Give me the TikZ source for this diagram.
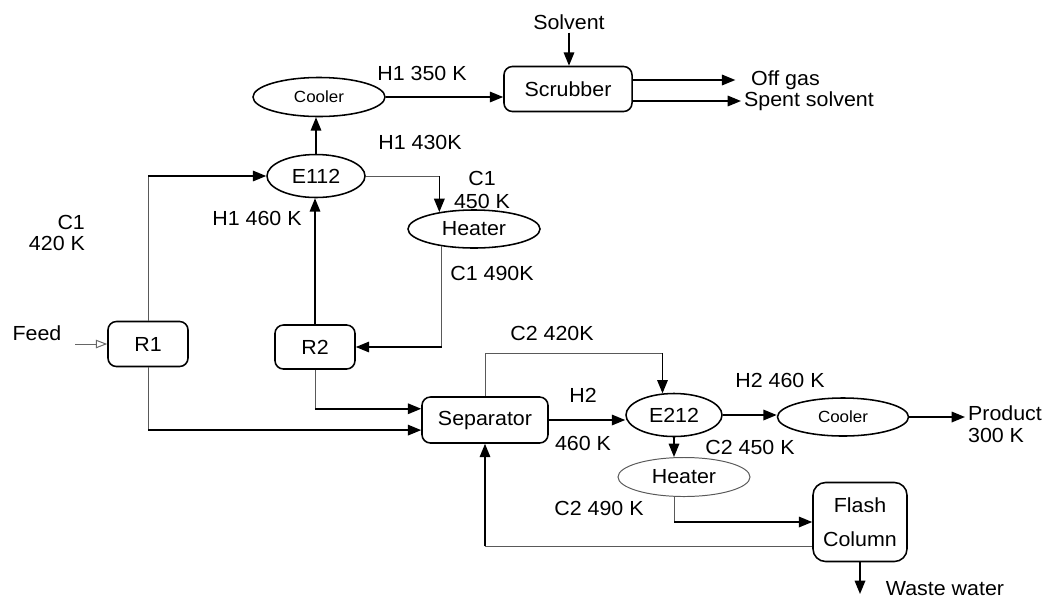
\documentclass[tikz,border=0pt]{standalone}
\usepackage{fontspec}
\setmainfont{Liberation Sans}[FakeStretch=1.05]
\usetikzlibrary{shapes.geometric,arrows.meta,positioning}

\begin{document}
\begin{tikzpicture}[x=0.025cm,y=-0.025cm,
        font=\fontsize{14.5}{17}\selectfont,
        box/.style={draw,line width=1.1pt,rounded corners=6pt},
        unit/.style={draw,ellipse,line width=1.1pt,inner sep=0pt},
        small/.style={font=\fontsize{11.5}{13}\selectfont},
        flow/.style={line width=1.1pt,-{Triangle[length=9.5pt,width=7.5pt]}},
        gline/.style={line width=0.7pt,black!65},
        lbl/.style={inner sep=2pt}]
        \useasboundingbox (0,0) rectangle (1046,601);

        \node[box,minimum width=3.2cm,minimum height=1.125cm] (scrub) at (568,89) {Scrubber};
        \node[unit,small,minimum width=3.3cm,minimum height=0.975cm] (cool1) at (319,97) {Cooler};
        \node[unit,minimum width=2.45cm,minimum height=1.075cm] (e112) at (316,176) {E112};
        \node[unit,minimum width=3.3cm,minimum height=0.95cm] (heat1) at (474,229) {Heater};
        \node[box,minimum width=2cm,minimum height=1.125cm] (r1) at (148,344) {R1};
        \node[box,minimum width=2cm,minimum height=1.1cm] (r2) at (315,347) {R2};
        \node[box,minimum width=3.15cm,minimum height=1.15cm] (sep) at (485,420) {Separator};
        \node[unit,minimum width=2.4cm,minimum height=1.075cm] (e212) at (674,415) {E212};
        \node[unit,small,minimum width=3.275cm,minimum height=0.95cm] (cool2) at (843,417) {Cooler};
        \node[unit,draw=black!65,line width=0.7pt,minimum width=3.3cm,minimum height=0.975cm] (heat2) at (684,477) {Heater};
        \node[box,rounded corners=9pt,align=center,minimum width=2.35cm,minimum height=1.975cm,
            font=\fontsize{14.5}{24}\selectfont] (flash) at (860,522) {Flash\\Column};

        \node[lbl] (solv) at (569,22) {Solvent};
        \node[lbl,anchor=west] (off) at (748,80) {Off gas};
        \node[lbl,anchor=west] (spent) at (741,101) {Spent solvent};
        \node[lbl] (feed) at (37,333) {Feed};
        \node[lbl,anchor=west,align=left,font=\fontsize{14.5}{15.5}\selectfont] (prod) at (965,424) {Product\\300 K};
        \node[lbl] (waste) at (945,589) {Waste water};
        \coordinate (feedin) at (75,344);
        \coordinate (wend) at (860,594);

        \node[lbl] at (422,73) {H1 350 K};
        \node[lbl] at (420,142) {H1 430K};
        \node[lbl,anchor=east,align=right,font=\fontsize{14.5}{15}\selectfont] at (88,233) {C1\\420 K};
        \node[lbl] at (257,218) {H1 460 K};
        \node[lbl,align=center,font=\fontsize{14.5}{17}\selectfont] at (482,190) {C1\\450 K};
        \node[lbl] at (492,273) {C1 490K};
        \node[lbl] at (552,333) {C2 420K};
        \node[lbl] at (583,395) {H2};
        \node[lbl] at (583,443) {460 K};
        \node[lbl] at (780,380) {H2 460 K};
        \node[lbl] at (750,447) {C2 450 K};
        \node[lbl] at (599,508) {C2 490 K};

        \draw[flow] (solv.south) -- (solv.south |- scrub.north);
        \draw[flow] (scrub.east |- off.west) -- ([xshift=-9pt]off.west);
        \draw[flow] (scrub.east |- spent.west) -- (spent.west);
        \draw[flow] (cool1.east) -- (cool1.east -| scrub.west);
        \draw[flow] (e112.north) -- (e112.north |- cool1.south);

        \coordinate (k1) at (r1.north |- e112.west);
        \draw[gline] (r1.north) -- (k1);
        \draw[flow] (k1) -- (e112.west);
        \draw[flow] (r2.north) -- (r2.north |- e112.south);
        \coordinate (k2) at (e112.east -| heat1.154);
        \draw[gline] (e112.east) -- (k2);
        \draw[flow] (k2) -- (heat1.154);
        \coordinate (k3) at (heat1.208 |- r2.east);
        \draw[gline] (heat1.208) -- (k3);
        \draw[flow] (k3) -- (r2.east);
        \draw[black!60,line width=0.7pt,-{Triangle[open,length=8pt,width=6pt]}] (feedin) -- (feedin -| r1.west);

        \coordinate (k4) at (r1.south |- sep.189);
        \draw[gline] (r1.south) -- (k4);
        \draw[flow] (k4) -- (sep.189);
        \coordinate (k5) at (r2.south |- sep.170);
        \draw[gline] (r2.south) -- (k5);
        \draw[flow] (k5) -- (sep.170);

        \coordinate (k6) at ([yshift=30.5pt]sep.north);
        \coordinate (k7) at (k6 -| e212.118);
        \draw[gline] (sep.north) -- (k6) -- (k7);
        \draw[flow] (k7) -- (e212.118);
        \draw[flow] (sep.east) -- (sep.east -| e212.west);
        \draw[flow] (e212.east) -- (e212.east -| cool2.west);
        \draw[flow] (cool2.east) -- (cool2.east -| prod.west);
        \draw[flow] (e212.south) -- (e212.south |- heat2.north);

        \coordinate (k8) at (heat2.south -| e212.south);
        \coordinate (k9) at (k8 |- flash.west);
        \draw[gline] (k8) -- (k9);
        \draw[flow] (k9) -- (flash.west);
        \coordinate (k10) at (flash.207 -| sep.south);
        \draw[gline] (flash.207) -- (k10);
        \draw[flow] (k10) -- (sep.south);
        \draw[flow] (flash.south) -- (wend);
    \end{tikzpicture}
\end{document}
